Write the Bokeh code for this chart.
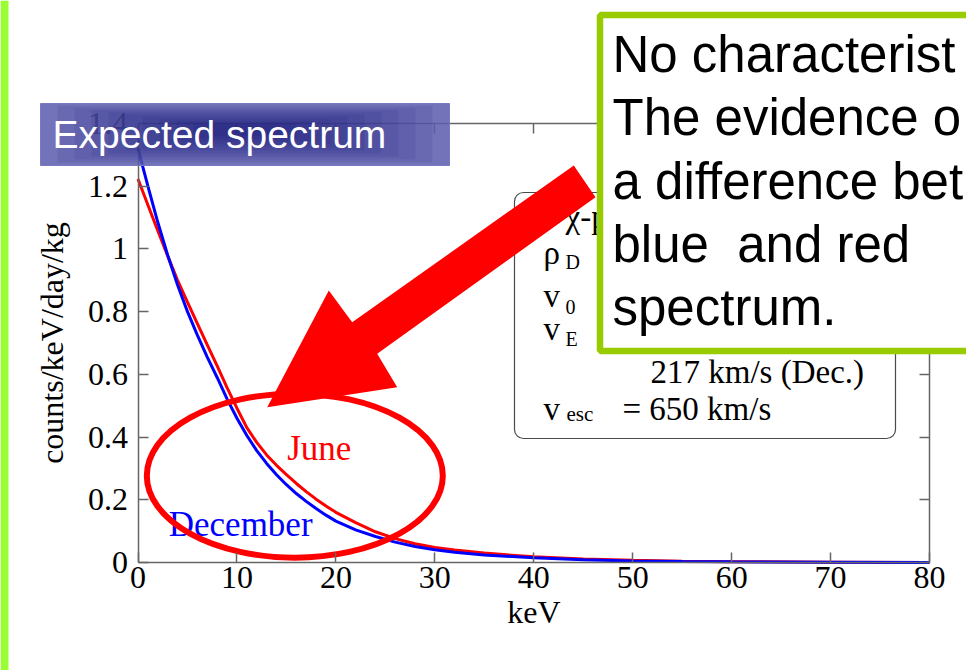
from bokeh.plotting import figure
from bokeh.models import (FixedTicker, LinearAxis, BoxAnnotation, PolyAnnotation, Label,
                          Range1d)
from bokeh.core.properties import value
from bokeh.embed import file_html
from bokeh.resources import INLINE

# Expected WIMP recoil spectrum (counts/keV/day/kg) in June and December
energy_kev = [0, 1, 2, 3, 4, 5, 6, 7, 8, 9, 10, 11, 12, 13, 14, 15, 16, 17, 18, 19,
              20, 22, 24, 26, 28, 30, 32, 35, 40, 45, 50, 55, 60, 70, 80]
june_rate = [1.223, 1.14, 1.058, 0.978, 0.90, 0.83, 0.762, 0.694, 0.627, 0.558,
             0.492, 0.43, 0.383, 0.343, 0.31, 0.28, 0.252, 0.226, 0.202, 0.18,
             0.16, 0.127, 0.098, 0.076, 0.06, 0.048, 0.04, 0.03, 0.018, 0.011,
             0.007, 0.004, 0.0025, 0.001, 0.0]
december_rate = [1.32, 1.20, 1.085, 0.98, 0.885, 0.80, 0.725, 0.655, 0.59, 0.522,
                 0.46, 0.405, 0.357, 0.316, 0.28, 0.248, 0.22, 0.195, 0.172, 0.151,
                 0.132, 0.104, 0.083, 0.065, 0.051, 0.041, 0.033, 0.024, 0.015, 0.009,
                 0.005, 0.003, 0.002, 0.001, 0.0]

x_ticks = [0, 10, 20, 30, 40, 50, 60, 70, 80]
x_tick_labels = ["0", "10", "20", "30", "40", "50", "60", "70", "80"]
y_ticks = [0, 0.2, 0.4, 0.6, 0.8, 1.0, 1.2, 1.4]
y_tick_labels = ["0", "0.2", "0.4", "0.6", "0.8", "1", "1.2", "1.4"]

series_names = ["June", "December"]
series_colors = ["#ff0000", "#0000ff"]

note_lines = ["No characterist", "The evidence o", "a difference bet",
              "blue\u00a0 and red", "spectrum."]

SERIF = "Liberation Serif"
SANS = "Liberation Sans"
AXIS_GRAY = "#666666"

W, H = 966, 670
# pixel placement of the data frame inside the slide
FX0, FX1 = 137.5, 929.0      # x = 0 and x = 80 keV
FY0, FY1 = 562.0, 123.0      # y = 0 and y = 1.4
kx = 80 / (FX1 - FX0)
ky = 1.4 / (FY0 - FY1)

p = figure(width=W, height=H,
           x_range=Range1d(-FX0 * kx, 80 + (W - FX1) * kx),
           y_range=Range1d(-(H - FY0) * ky, 1.4 + FY1 * ky),
           x_axis_location=None, y_axis_location=None,
           output_backend="svg", toolbar_location=None,
           min_border=0, min_border_left=0, min_border_right=0,
           min_border_top=0, min_border_bottom=0,
           background_fill_color="white", border_fill_color="white",
           outline_line_color=None)
p.grid.visible = False


def style_axis(ax, ticks, labels, show_labels):
    ax.ticker = FixedTicker(ticks=ticks)
    ax.major_label_overrides = dict(zip(ticks, labels))
    ax.axis_line_color = AXIS_GRAY
    ax.axis_line_width = 1.5
    ax.major_tick_line_color = AXIS_GRAY
    ax.major_tick_line_width = 1.5
    ax.major_tick_in = 10
    ax.major_tick_out = 0
    ax.minor_tick_line_color = None
    if show_labels:
        ax.major_label_text_font = SERIF
        ax.major_label_text_font_size = "32px"
        ax.major_label_text_color = "black"
        ax.axis_label_text_font = SERIF
        ax.axis_label_text_font_size = "32px"
        ax.axis_label_text_font_style = "normal"
        ax.axis_label_text_color = "black"
    else:
        ax.major_label_text_font_size = "1px"
        ax.major_label_text_color = None


xax = LinearAxis(fixed_location=0, bounds=(0, 80))
style_axis(xax, x_ticks, x_tick_labels, True)
xax.axis_label = "keV"
xax.major_label_standoff = 4
xax.axis_label_standoff = 3
p.add_layout(xax, "below")

yax = LinearAxis(fixed_location=0, bounds=(0, 1.4))
style_axis(yax, y_ticks, y_tick_labels, True)
yax.axis_label = "counts/keV/day/kg"
yax.major_label_standoff = 10
yax.axis_label_standoff = 16
p.add_layout(yax, "left")

top_ax = LinearAxis(fixed_location=1.4, bounds=(0, 80))
style_axis(top_ax, x_ticks, x_tick_labels, False)
p.add_layout(top_ax, "above")
right_ax = LinearAxis(fixed_location=80, bounds=(0, 1.4))
style_axis(right_ax, y_ticks, y_tick_labels, False)
p.add_layout(right_ax, "right")

# spectra
p.line(energy_kev, june_rate, line_color=series_colors[0], line_width=3)
p.line(energy_kev, december_rate, line_color=series_colors[1], line_width=3)

# curve names
p.text(x=[15.08], y=[0.365], text=[series_names[0]], text_color=series_colors[0],
       text_font=value(SERIF), text_font_size="35px",
       text_align="left", text_baseline="middle")
p.text(x=[3.11], y=[0.12], text=[series_names[1]], text_color=series_colors[1],
       text_font=value(SERIF), text_font_size="35px",
       text_align="left", text_baseline="middle")

# highlight ring around the low-energy region
p.ellipse(x=[15.85], y=[0.277], width=[296], height=[164],
          width_units="screen", height_units="screen",
          fill_color=None, line_color="#ff0000", line_width=6)


def canvas_box(left, right, top, bottom, **kw):
    p.add_layout(BoxAnnotation(left=left, right=right, top=top, bottom=bottom,
                               left_units="canvas", right_units="canvas",
                               top_units="canvas", bottom_units="canvas",
                               line_alpha=1.0, **kw))


def canvas_label(x, baseline, text, font, size, color="black"):
    # vertically centred on the text box; shift from the baseline by half its height
    mid = baseline - (0.3375 if font == SERIF else 0.3465) * size
    p.add_layout(Label(x=x, y=mid, x_units="canvas", y_units="canvas", text=text,
                       text_font=font, text_font_size=f"{size}px", text_color=color,
                       text_align="left", text_baseline="middle"))


# slide edge bar
canvas_box(0, 8, 0, H, fill_color="#99ff33", fill_alpha=1.0, line_color=None)

# parameter box
canvas_box(514, 895, 192, 438, fill_color="white", fill_alpha=1.0,
           line_color="#4a4a4a", line_width=1.2, border_radius=9)
canvas_label(565, 228, "χ-p", SERIF, 33)
canvas_label(543, 264, "ρ", SERIF, 33)
canvas_label(565, 268, "D", SERIF, 20)
canvas_label(543, 307, "v", SERIF, 33)
canvas_label(565, 313, "0", SERIF, 20)
canvas_label(543, 340, "v", SERIF, 33)
canvas_label(565, 345, "E", SERIF, 20)
canvas_label(650, 383, "217 km/s (Dec.)", SERIF, 33)
canvas_label(543, 420, "v", SERIF, 33)
canvas_label(566, 421, "esc", SERIF, 21)
canvas_label(622, 420, "= 650 km/s", SERIF, 33)

# pointer arrow
p.add_layout(PolyAnnotation(
    xs=[573.3, 595.0, 376.7, 396.7, 266.7, 328.3, 351.7],
    ys=[165.0, 196.7, 353.3, 386.7, 406.7, 290.0, 321.7],
    xs_units="canvas", ys_units="canvas",
    fill_color="#ff0000", fill_alpha=1.0, line_color=None))

# heading banner with a soft darker centre
canvas_box(40, 449, 103, 165, fill_color="#5c5cae", fill_alpha=0.86,
           line_color="#7a7ac4", line_width=1)
for i in range(1, 11):
    canvas_box(40 + 17 * i, 449 - 17 * i, 103 + 2.2 * i, 165 - 3.0 * i,
               fill_color="#10106a", fill_alpha=0.09, line_color=None)
canvas_label(52, 148, "Expected spectrum", SANS, 39, "white")

# callout box
canvas_box(599.5, 1010, 14.5, 350.5, fill_color="white", fill_alpha=1.0,
           line_color="#99cc00", line_width=6.5)
for i, line in enumerate(note_lines):
    canvas_label(612, 71.7 + 63.3 * i, line, SANS, 51)

open("out.html", "w").write(file_html(p, INLINE))
